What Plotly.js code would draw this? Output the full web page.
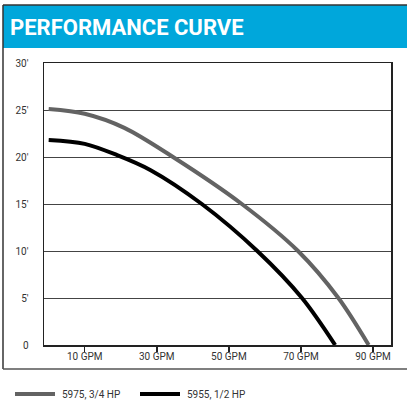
<!DOCTYPE html>
<html><head><meta charset="utf-8">
<script src="https://cdn.plot.ly/plotly-3.0.1.min.js"></script>
<style>html,body{margin:0;padding:0;background:#fff;}#chart{width:407px;height:402px;}</style>
</head><body><div id="chart"></div>
<script>
// Data (flow GPM, head ft)
var gpm5975 = [0, 10, 21, 34.5, 53.6, 69.2, 80.4, 88.8];
var head5975 = [25.1, 24.6, 23.1, 20, 15, 10, 5, 0];
var gpm5955 = [0, 10, 19, 28.3, 42.5, 57.9, 70.3, 79.5];
var head5955 = [21.8, 21.4, 20.2, 18.6, 15, 10, 5, 0];
var names = ["5975, 3/4 HP", "5955, 1/2 HP"];
var colors = ["#636363", "#000000"];
var xTickVals = [10, 30, 50, 70, 90];
var xTickText = ["10 GPM", "30 GPM", "50 GPM", "70 GPM", "90 GPM"];
var yTickVals = [0, 5, 10, 15, 20, 25, 30];
var yTickText = ["0", "5'", "10'", "15'", "20'", "25'", "30'"];
var titleText = "PERFORMANCE CURVE";

var W = 407, H = 402, L = 44, R = 16, T = 63, B = 57;
var pw = W - L - R, ph = H - T - B;
function px(x) { return (x - L) / pw; }
function py(y) { return (H - B - y) / ph; }

var font = "Roboto, 'DejaVu Sans', sans-serif";
var traces = [
  {x: gpm5975, y: head5975, name: names[0], mode: "lines", line: {color: colors[0], width: 4, shape: "spline", smoothing: 0.9}},
  {x: gpm5955, y: head5955, name: names[1], mode: "lines", line: {color: colors[1], width: 4, shape: "spline", smoothing: 0.9}}
];

// Legend drawn as line swatches + text labels below the frame
var legendX = [15, 140];
var legendY = 394;
var legendShapes = names.map(function (n, i) {
  return {type: "line", xref: "paper", yref: "paper", x0: px(legendX[i]), x1: px(legendX[i] + 40),
          y0: py(legendY), y1: py(legendY), line: {color: colors[i], width: 4}};
});
var legendAnn = names.map(function (n, i) {
  return {text: n, xref: "paper", yref: "paper", x: px(legendX[i] + 45), y: py(legendY), xanchor: "left",
          yanchor: "middle", showarrow: false, font: {family: font, size: 10, color: "#333"}};
});

var layout = {
  width: W, height: H,
  margin: {l: L, r: R, t: T, b: B, autoexpand: false},
  paper_bgcolor: "#fff", plot_bgcolor: "#fff",
  font: {family: font, size: 10, color: "#333"},
  showlegend: false,
  xaxis: {range: [-1.3, 95], tickvals: xTickVals, ticktext: xTickText, ticks: "outside", ticklen: 5,
          tickcolor: "#222", tickwidth: 1.5, showgrid: false, zeroline: false, showline: true,
          linecolor: "#222", linewidth: 1.5, mirror: true, fixedrange: true, ticklabelstandoff: -4},
  yaxis: {range: [0, 30], tickvals: yTickVals, ticktext: yTickText, ticks: "", ticklabelstandoff: 12,
          showgrid: true, gridcolor: "#444", gridwidth: 1, zeroline: false, showline: true,
          linecolor: "#222", linewidth: 1.5, mirror: true, fixedrange: true},
  shapes: [
    {type: "rect", xref: "paper", yref: "paper", x0: px(3), x1: px(407), y0: py(48), y1: py(5),
     fillcolor: "#00a7db", line: {width: 0}, layer: "below"},
    {type: "line", xref: "paper", yref: "paper", x0: px(3), x1: px(407), y0: py(5), y1: py(5), line: {color: "#333", width: 1.5}},
    {type: "line", xref: "paper", yref: "paper", x0: px(3), x1: px(3), y0: py(5), y1: py(369), line: {color: "#333", width: 1.5}},
    {type: "line", xref: "paper", yref: "paper", x0: px(3), x1: px(407), y0: py(369), y1: py(369), line: {color: "#555", width: 1.5}}
  ].concat(legendShapes),
  annotations: [
    {text: "<b>" + titleText + "</b>", xref: "paper", yref: "paper", x: px(8), y: py(27), xanchor: "left", yanchor: "middle",
     showarrow: false, font: {family: font, size: 22, color: "#fff"}}
  ].concat(legendAnn)
};
Plotly.newPlot("chart", traces, layout, {displayModeBar: false, staticPlot: true});
</script></body></html>
